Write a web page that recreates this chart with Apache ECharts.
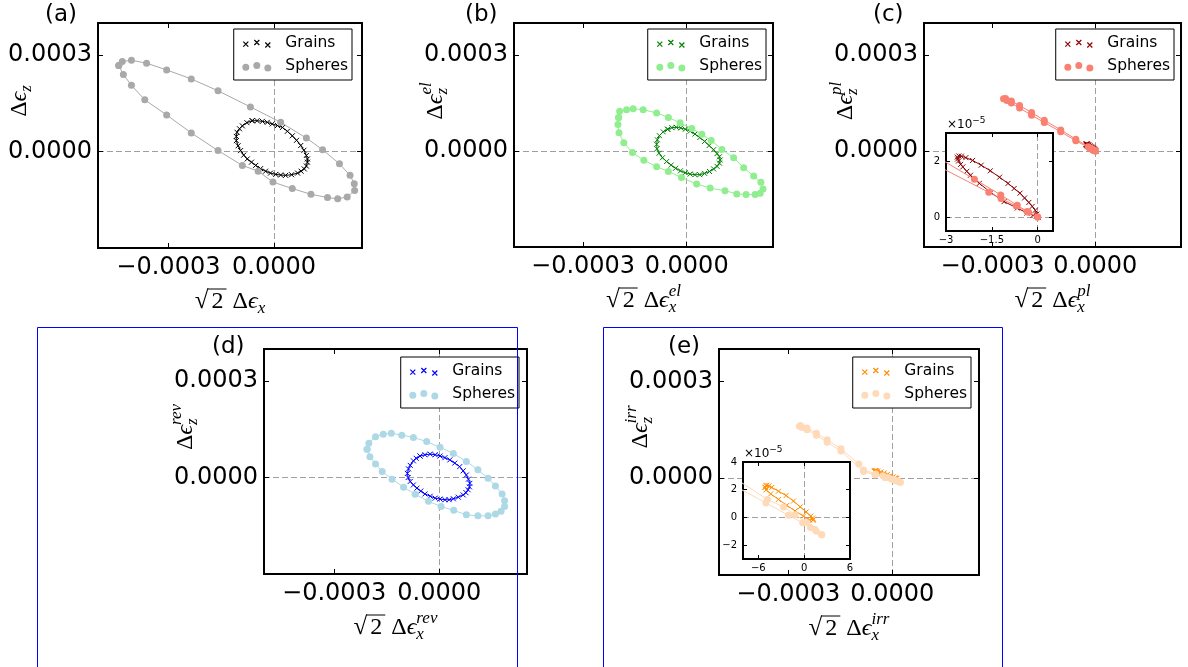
<!DOCTYPE html>
<html>
<head>
<meta charset="utf-8">
<script src="https://cdn.jsdelivr.net/npm/echarts@6.0.0/dist/echarts.min.js"></script>
<style>
  html, body { margin: 0; padding: 0; background: #fff; }
  #chart { width: 1188px; height: 667px; }
</style>
</head>
<body>
<div id="chart"></div>
<script>
// ---------------- data: strain loops [sqrt(2)*d(eps_x), d(eps_z)] ----------------
const grainsTotal = [[-6.2e-5,9.6e-5],[-4.8e-5,9.6e-5],[-3.3e-5,9.4e-5],[-1.9e-5,9.1e-5],[-0.5e-5,8.6e-5],[1.0e-5,8.1e-5],[2.4e-5,7.5e-5],[3.8e-5,6.3e-5],[5.2e-5,4.9e-5],[6.4e-5,3.5e-5],[7.6e-5,1.9e-5],[8.5e-5,0.4e-5],[9.2e-5,-1.2e-5],[9.5e-5,-2.3e-5],[9.5e-5,-3.3e-5],[9.2e-5,-4.5e-5],[8.6e-5,-5.4e-5],[7.7e-5,-6.1e-5],[6.7e-5,-6.7e-5],[5.0e-5,-7.2e-5],[3.3e-5,-7.4e-5],[1.9e-5,-7.3e-5],[0.5e-5,-7.1e-5],[-1.0e-5,-6.7e-5],[-2.4e-5,-6.1e-5],[-3.8e-5,-5.3e-5],[-5.2e-5,-4.3e-5],[-6.4e-5,-3.3e-5],[-7.6e-5,-2.3e-5],[-8.6e-5,-1.1e-5],[-9.5e-5,0.3e-5],[-10.2e-5,1.8e-5],[-10.7e-5,3.4e-5],[-10.7e-5,4.7e-5],[-10.5e-5,6.0e-5],[-9.8e-5,7.1e-5],[-9.0e-5,8.0e-5],[-7.7e-5,9.0e-5]];
const spheresTotal = [[-44.1e-5,26.8e-5],[-43.1e-5,28.0e-5],[-40.5e-5,28.4e-5],[-36.2e-5,27.5e-5],[-30.5e-5,25.4e-5],[-23.5e-5,22.6e-5],[-15.9e-5,18.9e-5],[-6.7e-5,13.9e-5],[1.9e-5,9.1e-5],[9.2e-5,4.2e-5],[13.8e-5,0.6e-5],[18.6e-5,-3.8e-5],[21.6e-5,-7.4e-5],[22.8e-5,-10.0e-5],[22.9e-5,-12.1e-5],[20.8e-5,-14.1e-5],[18.1e-5,-14.7e-5],[15.2e-5,-14.3e-5],[10.5e-5,-13.3e-5],[5.2e-5,-11.5e-5],[-0.3e-5,-9.5e-5],[-4.5e-5,-6.1e-5],[-9.0e-5,-4.3e-5],[-15.9e-5,0.3e-5],[-23.5e-5,5.8e-5],[-30.5e-5,11.4e-5],[-36.7e-5,16.1e-5],[-40.5e-5,20.6e-5],[-42.8e-5,24.0e-5]];

const grainsEl = [[-5.5e-5,6.8e-5],[-4.3e-5,7.3e-5],[-3.0e-5,7.4e-5],[-1.7e-5,7.2e-5],[-0.4e-5,6.8e-5],[1.0e-5,6.2e-5],[2.4e-5,5.3e-5],[3.8e-5,4.2e-5],[5.2e-5,3.0e-5],[6.5e-5,1.7e-5],[7.8e-5,0.4e-5],[8.8e-5,-0.8e-5],[9.5e-5,-1.8e-5],[9.7e-5,-2.8e-5],[9.5e-5,-3.8e-5],[8.8e-5,-4.8e-5],[7.8e-5,-5.6e-5],[6.6e-5,-6.4e-5],[5.2e-5,-7.0e-5],[3.8e-5,-7.4e-5],[2.4e-5,-7.4e-5],[1.0e-5,-7.2e-5],[-0.4e-5,-6.8e-5],[-1.8e-5,-6.2e-5],[-3.2e-5,-5.4e-5],[-4.5e-5,-4.4e-5],[-5.8e-5,-3.3e-5],[-7.0e-5,-2.1e-5],[-8.0e-5,-0.7e-5],[-8.6e-5,0.7e-5],[-8.7e-5,2.1e-5],[-8.5e-5,3.5e-5],[-7.9e-5,4.8e-5],[-6.8e-5,6.0e-5]];
const spheresEl = [[-19.7e-5,10.5e-5],[-19.4e-5,12.4e-5],[-17.4e-5,12.9e-5],[-15.5e-5,13.2e-5],[-12.6e-5,12.9e-5],[-8.7e-5,11.9e-5],[-5.3e-5,10.5e-5],[-1.9e-5,8.8e-5],[1.5e-5,7.0e-5],[4.4e-5,5.2e-5],[7.1e-5,3.3e-5],[10.2e-5,0.5e-5],[13.6e-5,-2.1e-5],[16.5e-5,-5.2e-5],[19.4e-5,-7.8e-5],[21.5e-5,-9.8e-5],[22.1e-5,-11.9e-5],[21.3e-5,-13.2e-5],[19.8e-5,-13.6e-5],[17.2e-5,-13.6e-5],[14.5e-5,-13.4e-5],[11.1e-5,-12.4e-5],[6.8e-5,-11.6e-5],[2.9e-5,-10.3e-5],[-1.5e-5,-8.3e-5],[-5.3e-5,-6.4e-5],[-8.7e-5,-4.9e-5],[-12.4e-5,-2.9e-5],[-15.7e-5,-0.5e-5],[-18.2e-5,2.6e-5],[-19.6e-5,5.7e-5],[-19.9e-5,8.3e-5]];

const grainsPl = [[0.02e-5,-0.02e-5],[-0.03e-5,0.10e-5],[-0.08e-5,0.24e-5],[-0.18e-5,0.38e-5],[-0.29e-5,0.52e-5],[-0.43e-5,0.68e-5],[-0.58e-5,0.85e-5],[-0.77e-5,1.02e-5],[-0.97e-5,1.20e-5],[-1.25e-5,1.42e-5],[-1.55e-5,1.65e-5],[-1.85e-5,1.85e-5],[-2.13e-5,2.02e-5],[-2.35e-5,2.12e-5],[-2.50e-5,2.17e-5],[-2.58e-5,2.18e-5],[-2.63e-5,2.14e-5],[-2.62e-5,2.07e-5],[-2.59e-5,2.00e-5],[-2.52e-5,1.88e-5],[-2.45e-5,1.79e-5],[-2.32e-5,1.63e-5],[-2.20e-5,1.49e-5],[-1.91e-5,1.20e-5],[-1.53e-5,0.87e-5],[-1.10e-5,0.55e-5],[-0.67e-5,0.32e-5],[-0.35e-5,0.14e-5],[-0.15e-5,0.06e-5],[-0.05e-5,0.02e-5]];
const spheresPl = [[0,0],[-0.3e-5,0.17e-5],[-0.7e-5,0.39e-5],[-1.2e-5,0.66e-5],[-1.6e-5,0.88e-5],[-5.7e-5,3.2e-5],[-10.1e-5,6.0e-5],[-14.9e-5,8.9e-5],[-18.6e-5,11.2e-5],[-22.1e-5,13.4e-5],[-24.5e-5,15.0e-5],[-25.8e-5,15.8e-5],[-26.8e-5,16.3e-5],[-26.2e-5,16.4e-5],[-24.5e-5,15.6e-5],[-22.1e-5,14.2e-5],[-18.6e-5,12.0e-5],[-14.9e-5,9.6e-5],[-10.1e-5,6.6e-5],[-5.7e-5,3.7e-5],[-2.07e-5,1.35e-5],[-1.21e-5,0.79e-5],[-0.67e-5,0.42e-5],[-0.35e-5,0.2e-5]];

const grainsRev = [[-5.5e-5,6.7e-5],[-4.1e-5,7.1e-5],[-2.6e-5,7.3e-5],[-1.2e-5,7.1e-5],[0.2e-5,6.7e-5],[1.6e-5,6.2e-5],[3.0e-5,5.5e-5],[4.4e-5,4.5e-5],[5.8e-5,3.4e-5],[6.8e-5,2.1e-5],[7.7e-5,0.8e-5],[8.3e-5,-0.5e-5],[8.7e-5,-1.8e-5],[8.6e-5,-2.9e-5],[8.2e-5,-3.8e-5],[7.6e-5,-4.7e-5],[6.8e-5,-5.4e-5],[5.4e-5,-6.1e-5],[4.0e-5,-6.6e-5],[2.8e-5,-6.9e-5],[1.6e-5,-6.9e-5],[0.2e-5,-6.7e-5],[-1.2e-5,-6.4e-5],[-2.6e-5,-5.8e-5],[-4.1e-5,-5.1e-5],[-5.3e-5,-4.2e-5],[-6.4e-5,-3.3e-5],[-7.4e-5,-2.3e-5],[-8.3e-5,-1.2e-5],[-8.9e-5,0.0e-5],[-9.1e-5,1.3e-5],[-8.8e-5,2.7e-5],[-8.3e-5,3.8e-5],[-7.4e-5,5.2e-5],[-6.6e-5,6.0e-5]];
const spheresRev = [[-20.6e-5,8.8e-5],[-20.1e-5,10.7e-5],[-18.2e-5,12.7e-5],[-16.0e-5,13.5e-5],[-13.7e-5,13.8e-5],[-10.7e-5,13.2e-5],[-7.4e-5,12.5e-5],[-3.6e-5,11.2e-5],[0.2e-5,9.4e-5],[4.0e-5,7.5e-5],[7.7e-5,5.0e-5],[11.0e-5,2.4e-5],[13.9e-5,-0.2e-5],[16.0e-5,-2.6e-5],[17.9e-5,-5.1e-5],[18.6e-5,-7.2e-5],[18.6e-5,-9.0e-5],[17.6e-5,-10.5e-5],[16.0e-5,-11.3e-5],[13.9e-5,-11.9e-5],[11.0e-5,-11.9e-5],[7.7e-5,-11.6e-5],[4.1e-5,-10.2e-5],[0.5e-5,-9.0e-5],[-3.1e-5,-7.4e-5],[-6.9e-5,-5.2e-5],[-10.2e-5,-3.0e-5],[-13.5e-5,-0.5e-5],[-16.3e-5,1.9e-5],[-18.2e-5,4.2e-5],[-19.8e-5,6.5e-5]];

const grainsIrr = [[-5.11e-5,2.17e-5],[-5.0e-5,2.3e-5],[-4.89e-5,2.32e-5],[-4.6e-5,2.28e-5],[-4.24e-5,2.17e-5],[-3.36e-5,1.89e-5],[-2.36e-5,1.58e-5],[-1.40e-5,1.18e-5],[-0.52e-5,0.76e-5],[0.26e-5,0.40e-5],[0.87e-5,0.09e-5],[1.1e-5,-0.05e-5],[1.22e-5,-0.14e-5],[1.15e-5,-0.2e-5],[0.7e-5,-0.19e-5],[-0.09e-5,0.09e-5],[-1.18e-5,0.47e-5],[-2.27e-5,0.87e-5],[-3.36e-5,1.30e-5],[-4.37e-5,1.70e-5],[-4.98e-5,1.99e-5]];
const spheresIrr = [[2.3e-5,-1.25e-5],[1.6e-5,-1.0e-5],[0.8e-5,-0.72e-5],[-0.2e-5,-0.38e-5],[-2.05e-5,0.15e-5],[-5.0e-5,1.05e-5],[-8.3e-5,2.03e-5],[-14.8e-5,8.4e-5],[-18.8e-5,11.1e-5],[-21.9e-5,13.3e-5],[-24.6e-5,15.0e-5],[-26.0e-5,15.7e-5],[-26.8e-5,16.1e-5],[-26.5e-5,16.3e-5],[-24.6e-5,15.5e-5],[-21.9e-5,13.9e-5],[-18.8e-5,11.9e-5],[-14.8e-5,9.1e-5],[-9.7e-5,4.4e-5],[-8.3e-5,2.55e-5],[-4.8e-5,1.3e-5],[-2.7e-5,0.76e-5],[-1.2e-5,0.2e-5],[0.3e-5,-0.35e-5],[1.4e-5,-0.85e-5]];

// ---------------- axes: ranges and tick positions ----------------
const mainXRange = [-0.0005, 0.00025];
const mainYRange = [-0.0003, 0.0004];
const mainXTicks = [-0.0003, 0];
const mainYTicks = [0, 0.0003];
const insetPlXRange = [-3e-5, 0.5e-5];
const insetPlYRange = [-0.5e-5, 3e-5];
const insetPlXTicks = [-3e-5, -1.5e-5, 0];
const insetPlYTicks = [0, 2e-5];
const insetIrrXRange = [-8e-5, 6e-5];
const insetIrrYRange = [-3e-5, 4e-5];
const insetIrrXTicks = [-6e-5, 0, 6e-5];
const insetIrrYTicks = [-2e-5, 0, 2e-5, 4e-5];

const panelTags = ['(a)', '(b)', '(c)', '(d)', '(e)'];
const seriesNames = ['Grains', 'Spheres'];
const strainSups = ['', 'el', 'pl', 'rev', 'irr'];

// ---------------- look ----------------
const MINUS = '\u2212';
const SANS = '"DejaVu Sans", sans-serif';
const SERIF = '"Liberation Serif", "DejaVu Serif", serif';

const panels = [
  { box: [98, 23, 264, 225],  grains: grainsTotal, spheres: spheresTotal, gc: '#000000', sc: '#a9a9a9', legendRight: 836, legendTop: 29,  tag: [45, 4] },
  { box: [514, 23, 259, 224], grains: grainsEl,    spheres: spheresEl,    gc: '#008000', sc: '#90ee90', legendRight: 422, legendTop: 29,  tag: [465, 4] },
  { box: [924, 23, 257, 224], grains: grainsPl,    spheres: spheresPl,    gc: '#8b0000', sc: '#fa8072', legendRight: 14,  legendTop: 29,  tag: [873, 4] },
  { box: [264, 349, 263, 225], grains: grainsRev,  spheres: spheresRev,   gc: '#0000ff', sc: '#add8e6', legendRight: 669, legendTop: 357, tag: [212, 336] },
  { box: [719, 349, 260, 226], grains: grainsIrr,  spheres: spheresIrr,   gc: '#ff8c00', sc: '#ffdab9', legendRight: 217, legendTop: 357, tag: [668, 336] }
];
const insets = [
  { host: 2, box: [946, 133, 107, 98], xr: insetPlXRange, yr: insetPlYRange, xt: insetPlXTicks, yt: insetPlYTicks },
  { host: 4, box: [743, 462, 107, 97], xr: insetIrrXRange, yr: insetIrrYRange, xt: insetIrrXTicks, yt: insetIrrYTicks }
];

function fmtMain(v) { return (v < 0 ? MINUS : '') + Math.abs(v).toFixed(4); }
function fmtInset(v) {
  const s = parseFloat((v * 1e5).toFixed(2));
  return (s < 0 ? MINUS : '') + Math.abs(s);
}

const grid = [], xAxis = [], yAxis = [], series = [], legend = [], graphic = [];

function addAxes(box, xr, yr, xt, yt, fmt, big, z, bg) {
  const gi = grid.length;
  grid.push({ left: box[0], top: box[1], width: box[2], height: box[3], show: true,
    borderColor: '#000', borderWidth: 2, backgroundColor: bg, z: z });
  const tick = (vals) => ({ show: true, inside: true, length: big ? 5 : 4, customValues: vals,
    lineStyle: { color: '#000', width: 1 } });
  const label = (vals, margin) => ({ show: true, customValues: vals, formatter: fmt, color: '#000',
    fontFamily: SANS, fontSize: big ? 24 : 10, margin: margin });
  const base = { gridIndex: gi, type: 'value', z: z + 4, axisLine: { show: false, onZero: false }, splitLine: { show: false } };
  xAxis.push(Object.assign({}, base, { min: xr[0], max: xr[1], position: 'bottom', axisTick: tick(xt), axisLabel: label(xt, big ? 8 : 4) }));
  xAxis.push(Object.assign({}, base, { min: xr[0], max: xr[1], position: 'top', axisTick: tick(xt), axisLabel: { show: false } }));
  yAxis.push(Object.assign({}, base, { min: yr[0], max: yr[1], position: 'left', axisTick: tick(yt), axisLabel: label(yt, big ? 6 : 6) }));
  yAxis.push(Object.assign({}, base, { min: yr[0], max: yr[1], position: 'right', axisTick: tick(yt), axisLabel: { show: false } }));
  return gi;
}

const CROSS = 'path://M0,0L10,10M10,0L0,10';

function loop(name, pts, color, isGrain, gi, z, withZeroLines) {
  const s = {
    type: 'line', name: name, xAxisIndex: 2 * gi, yAxisIndex: 2 * gi,
    data: pts.concat([pts[0]]), z: z, silent: true, animation: false, clip: true,
    showAllSymbol: true, symbol: isGrain ? CROSS : 'circle', symbolSize: isGrain ? 5 : 7,
    lineStyle: { color: color, width: 1 },
    itemStyle: isGrain ? { color: color, borderColor: color, borderWidth: 1 } : { color: color, borderWidth: 0 },
    emphasis: { disabled: true }
  };
  if (withZeroLines) {
    s.markLine = { silent: true, animation: false, z: z - 1, symbol: ['none', 'none'], label: { show: false },
      lineStyle: { color: '#a0a0a0', type: [6, 3], width: 1 }, emphasis: { disabled: true },
      data: [{ xAxis: 0 }, { yAxis: 0 }] };
  }
  return s;
}

// legend handle: three markers at matplotlib-style staggered heights
const handleCentres = [[3.5, 8.2], [14.5, 6.5], [25.5, 9.0]];
let crossIcon = 'path://M0,0M38,14';
let dotIcon = 'path://M0,0M38,14';
handleCentres.forEach(([cx, cy]) => {
  crossIcon += `M${cx - 2.5},${cy - 2.5}L${cx + 2.5},${cy + 2.5}M${cx + 2.5},${cy - 2.5}L${cx - 2.5},${cy + 2.5}`;
  dotIcon += `M${cx + 3.5},${cy}A3.5,3.5,0,1,1,${cx - 3.5},${cy}A3.5,3.5,0,1,1,${cx + 3.5},${cy}Z`;
});

// ---------------- math-style axis titles ----------------
const mctx = document.createElement('canvas').getContext('2d');
function fontStr(size, italic, fam) { return (italic ? 'italic ' : '') + size + 'px ' + (fam || SERIF); }
function textW(t, f) { mctx.font = f; return mctx.measureText(t).width; }
function glyph(t, f, x, dy, size) {
  return { type: 'text', x: x, y: dy - 0.3 * size, style: { text: t, font: f, fill: '#000', align: 'left', verticalAlign: 'middle' } };
}
function mathLabel(pieces, ax, ay, rotated, leftAlign) {
  const kids = [];
  let x = 0;
  pieces.forEach(p => {
    if (p.gap) { x += p.gap; return; }
    if (p.script) {
      const f = fontStr(p.size, p.it !== false, p.fam);
      let w = 0;
      if (p.sub) { kids.push(glyph(p.sub, f, x, p.subDy, p.size)); w = Math.max(w, textW(p.sub, f)); }
      if (p.sup) { kids.push(glyph(p.sup, f, x, p.supDy, p.size)); w = Math.max(w, textW(p.sup, f)); }
      x += w;
      return;
    }
    const f = fontStr(p.size, p.it, p.fam);
    const w = textW(p.t, f);
    const padL = p.padL || 0, padR = p.padR || 0;
    if (p.over !== undefined) {
      kids.push({ type: 'line', shape: { x1: x - 1, y1: p.over, x2: x + padL + w + padR, y2: p.over },
        style: { stroke: '#000', lineWidth: 1 } });
    }
    kids.push(glyph(p.t, f, x + padL, 0, p.size));
    x += padL + w + padR;
  });
  const shift = leftAlign ? 0 : -x / 2;
  kids.forEach(k => {
    if (k.type === 'text') k.x += shift;
    else { k.shape.x1 += shift; k.shape.x2 += shift; }
  });
  return { type: 'group', x: ax, y: ay, rotation: rotated ? Math.PI / 2 : 0, children: kids, z: 50 };
}

// ---------------- build panels ----------------
panels.forEach((p, i) => {
  const gi = addAxes(p.box, mainXRange, mainYRange, mainXTicks, mainYTicks, fmtMain, true, 0, 'transparent');
  const gName = seriesNames[0] + ' ' + panelTags[i];
  const sName = seriesNames[1] + ' ' + panelTags[i];
  series.push(loop(gName, p.grains, p.gc, true, gi, 3, true));
  series.push(loop(sName, p.spheres, p.sc, false, gi, 4, false));

  legend.push({
    orient: 'vertical', right: p.legendRight, top: p.legendTop, padding: [6, 4, 6, 8],
    itemGap: 7, itemWidth: 38, itemHeight: 14, selectedMode: false,
    backgroundColor: '#fff', borderColor: '#000', borderWidth: 1, borderRadius: 0, z: 20,
    textStyle: { fontSize: 15.5, fontFamily: SANS, color: '#000', lineHeight: 16 },
    formatter: n => n.split(' ')[0],
    data: [
      { name: gName, icon: crossIcon, itemStyle: { color: p.gc, borderColor: p.gc, borderWidth: 1.2 } },
      { name: sName, icon: dotIcon, itemStyle: { color: p.sc, borderWidth: 0 } }
    ]
  });

  // panel tag
  graphic.push({ type: 'text', x: p.tag[0], y: p.tag[1], z: 50,
    style: { text: panelTags[i], font: '23px ' + SANS, fill: '#000', align: 'left', verticalAlign: 'top' } });

  const sup = strainSups[i];
  const [L, T, W, H] = p.box;
  // x title: sqrt(2) Δϵ_x^sup
  graphic.push(mathLabel([
    { t: '\u221A', size: 25, it: false },
    { t: '2', size: 24, it: false, padL: 3, padR: 3, over: -20 },
    { gap: 6 },
    { t: '\u0394', size: 24, it: false },
    { t: '\u03F5', size: 24, it: true },
    { script: true, sub: 'x', sup: sup, size: 17, subDy: 5, supDy: -11 }
  ], L + W / 2, T + H + 61, false));
  // y title: Δϵ_z^sup
  graphic.push(mathLabel([
    { t: '\u0394', size: 24, it: false },
    { t: '\u03F5', size: 24, it: true },
    { script: true, sub: 'z', sup: sup, size: 17, subDy: 5, supDy: -11 }
  ], L - 71, T + 78, true));
});

insets.forEach(ins => {
  const p = panels[ins.host];
  const gi = addAxes(ins.box, ins.xr, ins.yr, ins.xt, ins.yt, fmtInset, false, 10, '#fff');
  const tag = panelTags[ins.host];
  series.push(loop(seriesNames[0] + ' ' + tag + ' zoom', p.grains, p.gc, true, gi, 12, true));
  series.push(loop(seriesNames[1] + ' ' + tag + ' zoom', p.spheres, p.sc, false, gi, 13, false));
  // scale factor above the inset
  graphic.push(mathLabel([
    { t: '\u00D710', size: 12, it: false, fam: SANS },
    { script: true, sup: MINUS + '5', size: 9, it: false, fam: SANS, supDy: -5 }
  ], ins.box[0] + 1, ins.box[1] - 5, false, true));
});

// frames around the lower-row figures
graphic.push({ type: 'rect', z: 100, shape: { x: 37.5, y: 327.5, width: 480, height: 400 },
  style: { fill: 'none', stroke: '#0000ff', lineWidth: 1 } });
graphic.push({ type: 'rect', z: 100, shape: { x: 603.5, y: 327.5, width: 399, height: 400 },
  style: { fill: 'none', stroke: '#0000ff', lineWidth: 1 } });

const chart = echarts.init(document.getElementById('chart'), null, { renderer: 'canvas' });
chart.setOption({
  backgroundColor: '#fff',
  animation: false,
  grid: grid, xAxis: xAxis, yAxis: yAxis,
  series: series, legend: legend, graphic: graphic
});
</script>
</body>
</html>
